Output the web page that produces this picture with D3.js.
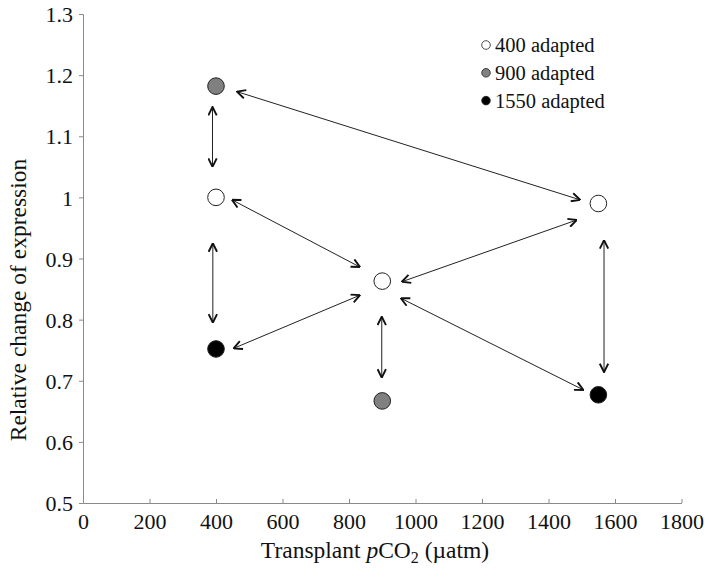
<!DOCTYPE html>
<html>
<head>
<meta charset="utf-8">
<script src="https://cdn.jsdelivr.net/npm/d3@7"></script>
<style>
  body { margin: 0; background: #fff; }
  svg text { font-family: "Liberation Serif", "DejaVu Serif", serif; fill: #111; }
</style>
</head>
<body>
<script>
// data
var groups = ['400 adapted', '900 adapted', '1550 adapted'];
var groupFill = ['#ffffff', '#808080', '#000000'];

var pointX = [400, 900, 1550, 400, 900, 400, 1550];
var pointY = [1.0, 0.863, 0.99, 1.182, 0.667, 0.752, 0.677];
var pointGroup = [0, 0, 0, 1, 1, 2, 2];

// double headed arrows [x1, y1, x2, y2] in data units
var arrows = [
  [463, 1.173, 1495, 0.996],
  [389.5, 1.148, 389.5, 1.05],
  [448, 0.996, 833, 0.886],
  [390.5, 0.925, 390.5, 0.795],
  [453, 0.753, 833, 0.840],
  [959, 0.862, 1485, 0.963],
  [898.5, 0.805, 898.5, 0.705],
  [956, 0.835, 1505, 0.685],
  [1567, 0.930, 1567, 0.714]
];

var xTicks = [0, 200, 400, 600, 800, 1000, 1200, 1400, 1600, 1800];
var yTicks = [0.5, 0.6, 0.7, 0.8, 0.9, 1, 1.1, 1.2, 1.3];

var margin = {top: 14, left: 83};
var width = 598.5, height = 489;

var svg = d3.select('body').append('svg')
  .attr('width', 709).attr('height', 578);

var defs = svg.append('defs');
defs.append('marker')
  .attr('id', 'head')
  .attr('viewBox', '0 0 10 10')
  .attr('refX', 9.5).attr('refY', 5)
  .attr('markerWidth', 10).attr('markerHeight', 10)
  .attr('markerUnits', 'userSpaceOnUse')
  .attr('orient', 'auto-start-reverse')
  .append('path')
  .attr('d', 'M1,0.8 L9.5,5 L1,9.2')
  .attr('fill', 'none')
  .attr('stroke', '#111')
  .attr('stroke-width', 1.9);

var g = svg.append('g')
  .attr('transform', 'translate(' + margin.left + ',' + margin.top + ')');

var xScale = d3.scaleLinear().domain([0, 1800]).range([0, width]);
var yScale = d3.scaleLinear().domain([0.5, 1.3]).range([height, 0]);

// axes
var xAxis = d3.axisBottom(xScale).tickValues(xTicks).tickSizeInner(-4).tickSizeOuter(0).tickPadding(10)
  .tickFormat(d3.format('d'));
var yAxis = d3.axisLeft(yScale).tickValues(yTicks).tickSize(4).tickPadding(6)
  .tickFormat(function(d){ return String(+d.toFixed(1)); });

var gx = g.append('g')
  .attr('transform', 'translate(0,' + height + ')')
  .call(xAxis);
var gy = g.append('g').call(yAxis);

[gx, gy].forEach(function(a){
  a.attr('font-family', null).attr('font-size', null);
  a.selectAll('path, line').attr('stroke', '#8a8a8a').attr('stroke-width', 1);
  a.selectAll('text')
    .attr('font-family', 'Liberation Serif')
    .style('font-size', '22px')
    .attr('fill', '#111');
});
gy.selectAll('text').attr('dy', '0.35em');
gx.selectAll('text').attr('dy', '0.71em');

// axis titles
var xt = svg.append('text')
  .attr('x', 375).attr('y', 558)
  .attr('text-anchor', 'middle')
  .style('font-size', '23.5px');
xt.append('tspan').text('Transplant ');
xt.append('tspan').style('font-style', 'italic').text('p');
xt.append('tspan').text('CO');
xt.append('tspan').attr('dy', 5).style('font-size', '16px').text('2');
xt.append('tspan').attr('dy', -5).text(' (\u00b5atm)');

svg.append('text')
  .attr('transform', 'translate(26,300) rotate(-90)')
  .attr('text-anchor', 'middle')
  .style('font-size', '23.5px')
  .text('Relative change of expression');

// arrows
g.selectAll('.arrow')
  .data(arrows)
  .enter().append('line')
  .attr('class', 'arrow')
  .attr('x1', function(d){ return xScale(d[0]); })
  .attr('y1', function(d){ return yScale(d[1]); })
  .attr('x2', function(d){ return xScale(d[2]); })
  .attr('y2', function(d){ return yScale(d[3]); })
  .attr('stroke', '#222')
  .attr('stroke-width', 1)
  .attr('marker-start', 'url(#head)')
  .attr('marker-end', 'url(#head)');

// points
g.selectAll('.pt')
  .data(pointX)
  .enter().append('circle')
  .attr('class', 'pt')
  .attr('cx', function(d){ return xScale(d); })
  .attr('cy', function(d, i){ return yScale(pointY[i]); })
  .attr('r', 8.3)
  .attr('fill', function(d, i){ return groupFill[pointGroup[i]]; })
  .attr('stroke', '#222')
  .attr('stroke-width', 1);

// legend
var legend = svg.selectAll('.legend')
  .data(groups)
  .enter().append('g')
  .attr('class', 'legend')
  .attr('transform', function(d, i){ return 'translate(486,' + (45 + i * 27.8) + ')'; });

legend.append('circle')
  .attr('r', 4.3)
  .attr('fill', function(d, i){ return groupFill[i]; })
  .attr('stroke', '#222')
  .attr('stroke-width', 0.8);

legend.append('text')
  .attr('x', 9)
  .attr('dy', '0.35em')
  .style('font-size', '20.5px')
  .text(function(d){ return d; });
</script>
</body>
</html>
